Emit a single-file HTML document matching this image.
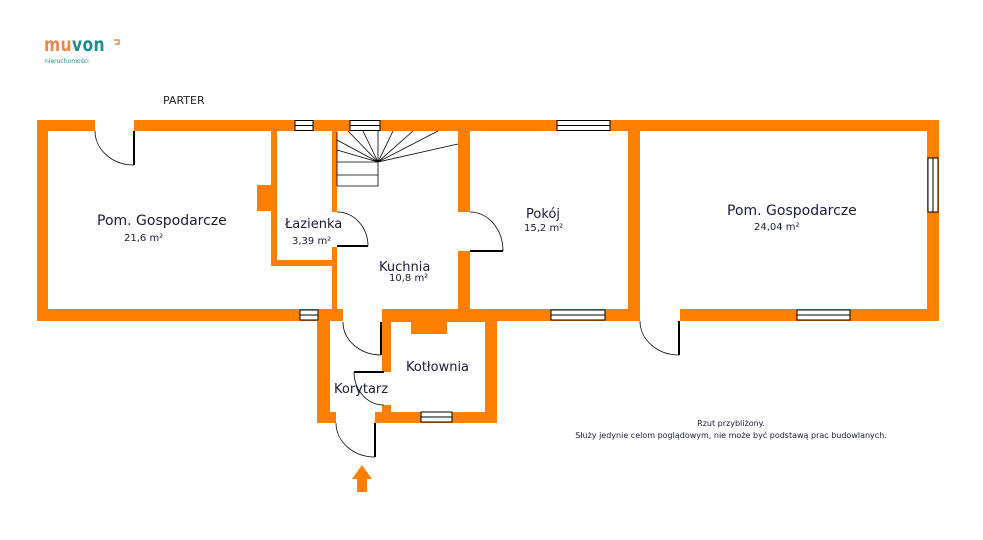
<!DOCTYPE html>
<html><head><meta charset="utf-8"><style>body{margin:0;background:#fff}svg{display:block}text{font-family:"DejaVu Sans","Liberation Sans",sans-serif}</style></head><body>
<svg width="983" height="540" viewBox="0 0 983 540" xmlns="http://www.w3.org/2000/svg">
<text x="44" y="51" font-size="19" font-weight="bold" fill="#e8894a" letter-spacing="0.5" textLength="61" lengthAdjust="spacingAndGlyphs">mu<tspan fill="#1c8c8c">von</tspan></text>
<path d="M114 40 h5 v4 h-4" stroke="#e8894a" fill="none" stroke-width="1.5"/>
<text x="45" y="63" font-size="6" fill="#1c8c8c">nieruchomości</text>
<text x="163" y="104" font-size="11" fill="#222">PARTER</text>
<g fill="#ff8000">
<rect x="37" y="120" width="58" height="11"/><rect x="134" y="120" width="805" height="11"/>
<rect x="37" y="120" width="11" height="201"/><rect x="927" y="120" width="12" height="201"/>
<rect x="37" y="309" width="306" height="12"/><rect x="382" y="309" width="258" height="12"/><rect x="680" y="309" width="259" height="12"/>
<rect x="271" y="131" width="6" height="135"/><rect x="257" y="185" width="14" height="26"/>
<rect x="271" y="260" width="62" height="6"/>
<rect x="332" y="131" width="5" height="81"/><rect x="332" y="247" width="5" height="74"/>
<rect x="458" y="131" width="12" height="81"/><rect x="458" y="251" width="12" height="70"/>
<rect x="628" y="131" width="12" height="190"/>
<rect x="317" y="309" width="13" height="114"/>
<rect x="317" y="412" width="19" height="11"/><rect x="375" y="412" width="122" height="11"/>
<rect x="485" y="309" width="12" height="114"/>
<rect x="382" y="310" width="115" height="12"/><rect x="411" y="322" width="36" height="12"/>
<rect x="382" y="322" width="9" height="50"/><rect x="382" y="405" width="9" height="8"/>
<polygon points="362,465 352,479 357,479 357,492 367,492 367,479 372,479"/>
</g>
<g fill="#fff" stroke="#000" stroke-width="1">
<rect x="295" y="120.5" width="18" height="10"/><line x1="295" y1="125.5" x2="313" y2="125.5"/>
<rect x="350" y="120.5" width="30" height="10"/><line x1="350" y1="125.5" x2="380" y2="125.5"/>
<rect x="557" y="120.5" width="53" height="10"/><line x1="557" y1="125.5" x2="610" y2="125.5"/>
<rect x="300" y="310" width="18" height="10"/><line x1="300" y1="315" x2="318" y2="315"/>
<rect x="551" y="310" width="54" height="10"/><line x1="551" y1="315" x2="605" y2="315"/>
<rect x="797" y="310" width="53" height="10"/><line x1="797" y1="315" x2="850" y2="315"/>
<rect x="928" y="158" width="10" height="54"/><line x1="933" y1="158" x2="933" y2="212"/>
<rect x="421" y="412" width="31" height="10"/><line x1="421" y1="417" x2="452" y2="417"/>
</g>
<g fill="none" stroke="#000" stroke-width="0.8">
<path d="M337 162 H378 V186 H337 M337 175 H378"/>
<path d="M378 162 L337 140 M378 162 L337 150 M378 162 L348 131 M378 162 L363 131 M378 162 L378 131 M378 162 L393 131 M378 162 L413 131 M378 162 L438 131 M378 162 L458 144 M337 132 V186"/>
<path d="M95 131 A39 34 0 0 0 134 165"/><path d="M337 212 A31 34 0 0 1 368 246"/>
<path d="M470 212 A33 39 0 0 1 503 251"/><path d="M343 322 A38 33 0 0 0 381 355"/>
<path d="M640 321 A39 34 0 0 0 679 355"/><path d="M336 423 A39 34 0 0 0 375 457"/>
<path d="M354 372 A30 33 0 0 0 384 405"/>
</g>
<g stroke="#000" stroke-width="2">
<line x1="134" y1="131" x2="134" y2="165"/><line x1="337" y1="246" x2="368" y2="246"/>
<line x1="470" y1="251" x2="503" y2="251"/><line x1="381" y1="322" x2="381" y2="355"/>
<line x1="679" y1="321" x2="679" y2="355"/><line x1="375" y1="423" x2="375" y2="457"/>
<line x1="354" y1="372" x2="384" y2="372"/>
</g>
<g fill="#1a1a3a">
<text x="97" y="225" font-size="14">Pom. Gospodarcze</text><text x="124" y="241" font-size="10">21,6 m²</text>
<text x="285" y="228" font-size="13">Łazienka</text><text x="292" y="244" font-size="10">3,39 m²</text>
<text x="379" y="271" font-size="13">Kuchnia</text><text x="389" y="281" font-size="10">10,8 m²</text>
<text x="526" y="218" font-size="13">Pokój</text><text x="524" y="231" font-size="10">15,2 m²</text>
<text x="727" y="215" font-size="14">Pom. Gospodarcze</text><text x="754" y="230" font-size="10">24,04 m²</text>
<text x="406" y="371" font-size="13">Kotłownia</text>
<text x="334" y="393" font-size="13">Korytarz</text>
<text x="731" y="426" font-size="8" text-anchor="middle">Rzut przybliżony.</text>
<text x="731" y="438" font-size="8" text-anchor="middle">Służy jedynie celom poglądowym, nie może być podstawą prac budowlanych.</text>
</g>
</svg>
</body></html>
